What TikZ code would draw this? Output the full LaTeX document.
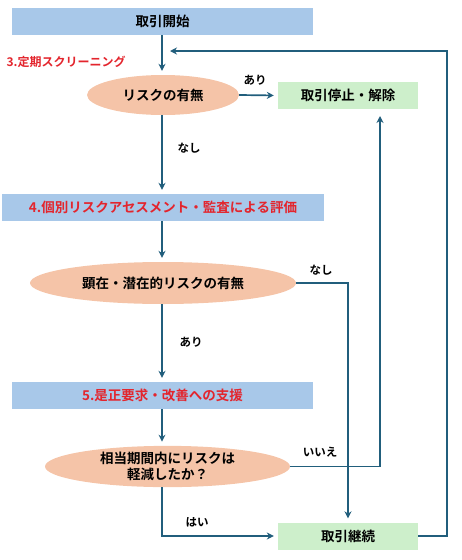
\documentclass[tikz,border=0pt]{standalone}
\usepackage{fontspec}
\setmainfont{Noto Sans CJK JP}[BoldFont={Noto Sans CJK JP Bold}]
\usetikzlibrary{arrows.meta,positioning,shapes.geometric}
\definecolor{stepblue}{HTML}{A8C8E9}
\definecolor{askpeach}{HTML}{F5C4A8}
\definecolor{endgreen}{HTML}{CDEFCB}
\definecolor{flowline}{HTML}{215E7C}
\definecolor{steplabel}{HTML}{E3252D}
\tikzset{stepbox/.style={rectangle, fill=stepblue, minimum height=27pt, inner sep=0pt, font=\fontsize{13.5}{15}\selectfont\bfseries}}
\tikzset{askoval/.style={ellipse, fill=askpeach, inner sep=0pt, font=\fontsize{13.5}{16.5}\selectfont\bfseries, align=center}}
\tikzset{endbox/.style={rectangle, fill=endgreen, minimum width=140pt, minimum height=27pt, inner sep=0pt, font=\fontsize{13.5}{15}\selectfont\bfseries}}
\tikzset{arr/.style={draw=flowline, line width=1.7pt, -{Stealth[length=7pt,width=7pt]}, shorten >=4pt}}
\tikzset{ans/.style={font=\fontsize{11.5}{13}\selectfont\bfseries}}

\begin{document}
\begin{tikzpicture}[x=1pt, y=-1pt]
			\useasboundingbox (0,0) rectangle (462,560);
			\node[stepbox, minimum width=301pt] (start) at (162.5,21.5){取引開始};
			\node[anchor=west, text=steplabel, font=\fontsize{12}{14}\selectfont\bfseries] (s3) at (3,62){3.定期スクリーニング};
			\node[askoval, minimum width=152pt, minimum height=40pt] (Q1) at (163,95){リスクの有無};
			\node[endbox] (stop) at (348,95.5){取引停止・解除};
			\node[stepbox, minimum width=322pt, text=steplabel] (s4) at (163,207.5){4.個別リスクアセスメント・監査による評価};
			\node[askoval, minimum width=266pt, minimum height=42pt] (Q2) at (163,283){顕在・潜在的リスクの有無};
			\node[stepbox, minimum width=301pt, text=steplabel] (s5) at (162.5,395.5){5.是正要求・改善への支援};
			\node[askoval, minimum width=245pt, minimum height=41pt] (Q3) at (167.5,466.5){相当期間内にリスクは\\軽減したか？};
			\node[endbox] (cont) at (348,536){取引継続};
			
			\coordinate (loop) at (447,51);
			\coordinate (back) at (170,51);
			\coordinate (up) at (380,112);
			
			% answers
			\node[ans] (a1) at (255,80){あり};
			\node[ans] (a2) at (189,148){なし};
			\node[ans] (a3) at (321,270){なし};
			\node[ans] (a4) at (191,342){あり};
			\node[ans] (a5) at (320,452){いいえ};
			\node[ans] (a6) at (197,522){はい};
			
			\begin{scope}[arr]
				\draw (start.south -| 162,0) -- (Q1.north -| 162,0);
				\draw (Q1.east) -- (stop.west);
				\draw (Q1.south -| 162,0) -- (s4.north -| 162,0);
				\draw (s4.south -| 162,0) -- (Q2.north -| 162,0);
				\draw (Q2.east) -| (cont.north);
				\draw (Q2.south -| 162,0) -- (s5.north -| 162,0);
				\draw (s5.south -| 162,0) -- (Q3.north -| 162,0);
				\draw (Q3.east) -| (up);
				\draw ([xshift=-5.5pt]Q3.south) |- (cont.west);
				\draw[shorten >=0pt] (cont.east) -| (loop) -- (back);
			\end{scope}
		\end{tikzpicture}
\end{document}
